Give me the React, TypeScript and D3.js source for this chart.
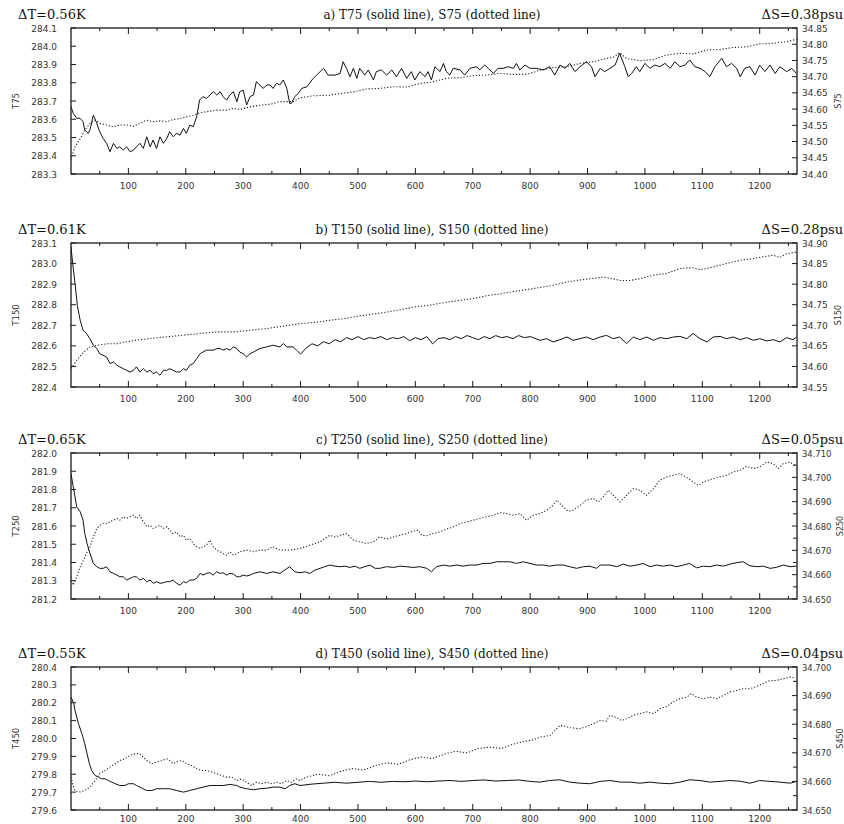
import React from 'react';
import * as d3 from 'd3';

type P = [number, number];

// ---------------- data (time, value) ----------------
const T75: P[] = [[0,283.669],[4,283.632],[10,283.605],[16,283.605],[21,283.587],[24,283.541],[30,283.523],[33,283.541],[39,283.623],[45,283.577],[50,283.532],[56,283.495],[62,283.468],[68,283.422],[74,283.468],[80,283.440],[85,283.449],[91,283.431],[97,283.449],[103,283.422],[109,283.431],[114,283.449],[120,283.468],[126,283.440],[132,283.504],[138,283.449],[143,283.486],[149,283.440],[155,283.504],[161,283.468],[167,283.495],[172,283.532],[178,283.504],[184,283.523],[190,283.513],[196,283.550],[201,283.523],[207,283.568],[213,283.559],[219,283.614],[224,283.705],[230,283.724],[236,283.714],[242,283.733],[248,283.751],[254,283.733],[260,283.751],[265,283.724],[271,283.705],[277,283.733],[283,283.751],[289,283.696],[294,283.751],[300,283.760],[306,283.678],[312,283.724],[318,283.733],[323,283.806],[329,283.788],[335,283.769],[341,283.788],[347,283.788],[352,283.769],[358,283.797],[364,283.788],[370,283.815],[376,283.769],[381,283.687],[384,283.687],[390,283.724],[396,283.742],[402,283.769],[411,283.778],[422,283.824],[428,283.842],[440,283.879],[448,283.842],[460,283.842],[469,283.851],[474,283.915],[480,283.879],[486,283.833],[492,283.879],[498,283.824],[503,283.879],[512,283.842],[518,283.870],[527,283.815],[532,283.861],[541,283.870],[550,283.842],[559,283.870],[567,283.833],[576,283.879],[585,283.824],[593,283.861],[599,283.815],[608,283.861],[617,283.833],[622,283.861],[628,283.815],[634,283.888],[643,283.861],[649,283.906],[654,283.861],[660,283.842],[666,283.879],[678,283.870],[686,283.842],[695,283.879],[707,283.888],[712,283.870],[721,283.897],[727,283.879],[736,283.851],[744,283.879],[753,283.879],[762,283.888],[771,283.879],[776,283.906],[782,283.870],[791,283.897],[800,283.879],[811,283.879],[823,283.870],[834,283.888],[843,283.842],[852,283.897],[861,283.879],[869,283.906],[878,283.861],[887,283.888],[898,283.915],[907,283.888],[913,283.833],[922,283.879],[930,283.861],[939,283.879],[948,283.897],[956,283.961],[965,283.888],[971,283.833],[977,283.851],[985,283.888],[991,283.861],[1000,283.906],[1009,283.879],[1017,283.897],[1026,283.888],[1035,283.906],[1044,283.879],[1052,283.915],[1061,283.888],[1070,283.897],[1078,283.925],[1087,283.888],[1096,283.879],[1105,283.861],[1113,283.833],[1122,283.888],[1134,283.934],[1142,283.888],[1151,283.906],[1160,283.879],[1166,283.833],[1174,283.879],[1183,283.888],[1192,283.842],[1200,283.897],[1209,283.861],[1218,283.897],[1227,283.851],[1235,283.888],[1247,283.861],[1256,283.879],[1264,283.851]];

const S75: P[] = [[0,34.445],[1,34.453],[7,34.484],[16,34.509],[24,34.535],[33,34.556],[42,34.566],[50,34.556],[62,34.551],[74,34.545],[85,34.551],[97,34.551],[109,34.547],[120,34.556],[132,34.566],[143,34.561],[155,34.564],[167,34.561],[178,34.568],[190,34.571],[201,34.576],[213,34.581],[225,34.589],[236,34.592],[254,34.597],[271,34.597],[283,34.602],[294,34.599],[312,34.607],[329,34.612],[347,34.615],[364,34.623],[387,34.623],[399,34.635],[422,34.641],[451,34.643],[469,34.648],[492,34.653],[515,34.662],[538,34.664],[562,34.669],[585,34.668],[608,34.679],[631,34.684],[654,34.695],[678,34.697],[701,34.703],[724,34.705],[747,34.710],[771,34.707],[794,34.707],[817,34.720],[840,34.728],[864,34.731],[887,34.741],[910,34.746],[933,34.756],[945,34.760],[956,34.774],[968,34.756],[991,34.749],[1015,34.753],[1038,34.767],[1061,34.772],[1084,34.770],[1107,34.782],[1131,34.784],[1154,34.790],[1177,34.792],[1200,34.801],[1224,34.803],[1247,34.808],[1264,34.815]];

const T150: P[] = [[0,283.081],[3,283.000],[7,282.903],[11,282.797],[16,282.724],[21,282.676],[27,282.660],[33,282.635],[39,282.603],[45,282.587],[50,282.562],[56,282.554],[62,282.546],[68,282.514],[74,282.522],[80,282.506],[85,282.498],[91,282.489],[97,282.481],[103,282.473],[109,282.481],[114,282.498],[120,282.473],[126,282.489],[132,282.473],[138,282.481],[143,282.465],[149,282.473],[155,282.457],[161,282.481],[167,282.481],[172,282.489],[178,282.481],[184,282.473],[190,282.473],[196,282.489],[201,282.481],[207,282.506],[213,282.514],[219,282.538],[225,282.562],[230,282.570],[236,282.579],[242,282.579],[248,282.579],[254,282.587],[260,282.587],[265,282.579],[271,282.587],[277,282.579],[283,282.595],[289,282.587],[294,282.570],[300,282.562],[306,282.546],[312,282.562],[318,282.570],[329,282.587],[341,282.595],[352,282.603],[364,282.595],[370,282.611],[376,282.595],[387,282.595],[393,282.579],[400,282.560],[410,282.590],[420,282.610],[430,282.600],[440,282.620],[450,282.610],[460,282.630],[470,282.620],[480,282.640],[490,282.630],[500,282.645],[510,282.630],[520,282.640],[530,282.635],[540,282.645],[550,282.630],[560,282.640],[570,282.635],[580,282.645],[590,282.625],[600,282.640],[610,282.630],[620,282.645],[630,282.610],[640,282.635],[650,282.640],[660,282.630],[670,282.645],[680,282.635],[690,282.650],[700,282.640],[710,282.630],[720,282.645],[730,282.635],[740,282.650],[750,282.640],[760,282.645],[770,282.635],[780,282.650],[790,282.640],[800,282.645],[810,282.635],[817,282.627],[829,282.635],[840,282.619],[852,282.630],[864,282.643],[875,282.627],[887,282.635],[898,282.643],[910,282.630],[922,282.643],[933,282.651],[945,282.635],[956,282.643],[968,282.611],[980,282.643],[991,282.630],[1003,282.643],[1015,282.627],[1026,282.640],[1038,282.635],[1050,282.643],[1061,282.646],[1073,282.635],[1084,282.660],[1096,282.635],[1108,282.619],[1119,282.643],[1131,282.646],[1142,282.635],[1154,282.643],[1166,282.630],[1177,282.640],[1189,282.627],[1200,282.635],[1212,282.624],[1224,282.630],[1235,282.619],[1247,282.640],[1258,282.630],[1264,282.643]];

const S150: P[] = [[0,34.595],[10,34.615],[22,34.635],[33,34.647],[45,34.651],[62,34.655],[80,34.655],[97,34.660],[114,34.664],[138,34.668],[167,34.672],[196,34.676],[225,34.680],[254,34.684],[283,34.684],[312,34.688],[341,34.692],[370,34.698],[399,34.704],[425,34.707],[450,34.712],[475,34.716],[500,34.722],[525,34.727],[550,34.732],[575,34.738],[600,34.745],[625,34.749],[650,34.755],[675,34.760],[700,34.765],[725,34.772],[750,34.777],[775,34.783],[800,34.788],[817,34.792],[840,34.797],[864,34.805],[881,34.809],[904,34.813],[927,34.817],[945,34.813],[957,34.809],[974,34.809],[991,34.813],[1015,34.822],[1038,34.826],[1061,34.838],[1084,34.840],[1096,34.835],[1108,34.838],[1131,34.846],[1142,34.850],[1166,34.858],[1189,34.862],[1212,34.868],[1224,34.870],[1235,34.865],[1247,34.874],[1264,34.878]];

const T250: P[] = [[0,281.887],[4,281.814],[10,281.705],[16,281.678],[21,281.632],[24,281.559],[28,281.504],[33,281.450],[39,281.395],[45,281.377],[50,281.368],[56,281.368],[62,281.377],[68,281.349],[74,281.340],[80,281.331],[85,281.322],[91,281.322],[97,281.304],[103,281.313],[109,281.322],[114,281.322],[120,281.304],[126,281.313],[132,281.295],[138,281.304],[143,281.286],[149,281.295],[155,281.286],[161,281.289],[167,281.295],[172,281.295],[178,281.304],[184,281.286],[190,281.276],[196,281.295],[201,281.289],[207,281.304],[213,281.304],[219,281.313],[225,281.340],[230,281.331],[236,281.340],[242,281.344],[248,281.331],[254,281.349],[260,281.340],[265,281.344],[271,281.331],[277,281.340],[283,281.337],[289,281.322],[294,281.322],[300,281.331],[306,281.326],[312,281.331],[318,281.340],[329,281.349],[341,281.340],[352,281.349],[364,281.340],[373,281.360],[381,281.377],[390,281.349],[399,281.344],[408,281.349],[416,281.340],[425,281.358],[434,281.368],[442,281.377],[451,281.386],[460,281.380],[469,281.377],[477,281.380],[486,281.373],[495,281.380],[503,281.368],[512,281.377],[521,281.386],[530,281.368],[538,281.368],[550,281.377],[562,281.373],[573,281.380],[585,281.377],[596,281.373],[608,281.377],[620,281.368],[628,281.349],[637,281.377],[649,281.386],[660,281.380],[672,281.386],[683,281.380],[695,281.386],[707,281.386],[718,281.395],[730,281.395],[742,281.404],[753,281.404],[765,281.404],[776,281.395],[788,281.404],[800,281.395],[811,281.386],[823,281.386],[834,281.380],[846,281.386],[858,281.386],[869,281.377],[881,281.368],[893,281.377],[904,281.380],[916,281.368],[922,281.386],[930,281.386],[939,281.386],[951,281.377],[962,281.391],[974,281.380],[986,281.386],[997,281.395],[1009,281.377],[1020,281.386],[1032,281.380],[1044,281.386],[1055,281.377],[1067,281.386],[1078,281.395],[1090,281.371],[1102,281.380],[1113,281.377],[1125,281.386],[1137,281.380],[1148,281.391],[1160,281.399],[1171,281.404],[1183,281.382],[1195,281.377],[1206,281.380],[1218,281.368],[1229,281.373],[1241,281.386],[1253,281.377],[1264,281.380]];

const S250: P[] = [[0,34.6591],[4,34.6557],[10,34.6591],[16,34.6633],[22,34.6660],[27,34.6687],[33,34.6715],[39,34.6756],[45,34.6790],[50,34.6803],[56,34.6810],[62,34.6810],[68,34.6817],[74,34.6824],[80,34.6831],[85,34.6824],[91,34.6838],[97,34.6831],[103,34.6838],[109,34.6844],[114,34.6831],[120,34.6844],[126,34.6817],[132,34.6797],[138,34.6803],[143,34.6790],[149,34.6797],[155,34.6803],[161,34.6790],[167,34.6797],[172,34.6783],[178,34.6769],[184,34.6776],[190,34.6756],[196,34.6762],[201,34.6742],[207,34.6749],[213,34.6728],[219,34.6715],[225,34.6708],[230,34.6715],[236,34.6721],[242,34.6742],[248,34.6715],[254,34.6701],[260,34.6694],[265,34.6687],[271,34.6680],[277,34.6694],[283,34.6680],[289,34.6687],[294,34.6694],[306,34.6701],[318,34.6694],[329,34.6701],[341,34.6701],[352,34.6715],[364,34.6701],[381,34.6701],[399,34.6708],[416,34.6721],[434,34.6735],[451,34.6762],[460,34.6755],[469,34.6762],[480,34.6769],[492,34.6742],[503,34.6735],[515,34.6728],[527,34.6735],[538,34.6755],[550,34.6746],[562,34.6755],[573,34.6762],[585,34.6769],[596,34.6779],[605,34.6783],[611,34.6762],[620,34.6760],[631,34.6769],[643,34.6776],[654,34.6787],[666,34.6796],[678,34.6810],[689,34.6817],[701,34.6824],[712,34.6831],[724,34.6838],[736,34.6844],[747,34.6855],[759,34.6851],[771,34.6844],[782,34.6851],[794,34.6824],[805,34.6844],[817,34.6851],[829,34.6865],[840,34.6885],[846,34.6906],[858,34.6878],[866,34.6861],[875,34.6865],[887,34.6885],[898,34.6906],[910,34.6913],[919,34.6899],[927,34.6919],[936,34.6947],[945,34.6926],[957,34.6899],[968,34.6926],[980,34.6954],[991,34.6947],[1003,34.6926],[1015,34.6954],[1026,34.6988],[1038,34.7002],[1049,34.7008],[1061,34.7015],[1073,34.6999],[1084,34.6981],[1093,34.6967],[1102,34.6981],[1119,34.6995],[1131,34.7002],[1142,34.7008],[1154,34.7022],[1166,34.7029],[1177,34.7045],[1189,34.7036],[1200,34.7043],[1212,34.7063],[1224,34.7056],[1232,34.7036],[1241,34.7056],[1253,34.7063],[1261,34.7049]];

const T450: P[] = [[0,280.232],[5,280.195],[7,280.157],[13,280.083],[19,280.027],[24,279.971],[28,279.915],[32,279.859],[36,279.821],[42,279.793],[48,279.784],[53,279.775],[59,279.775],[65,279.765],[71,279.756],[77,279.747],[85,279.737],[94,279.737],[100,279.747],[109,279.747],[114,279.737],[120,279.728],[132,279.709],[141,279.709],[149,279.719],[161,279.719],[172,279.719],[184,279.709],[196,279.700],[207,279.709],[219,279.719],[230,279.728],[242,279.737],[254,279.737],[265,279.737],[277,279.743],[289,279.737],[294,279.728],[306,279.719],[318,279.713],[329,279.719],[341,279.722],[352,279.728],[364,279.728],[373,279.719],[381,279.737],[390,279.747],[399,279.737],[420,279.745],[440,279.750],[460,279.755],[480,279.750],[500,279.755],[520,279.760],[540,279.755],[560,279.760],[580,279.758],[600,279.762],[620,279.758],[640,279.762],[660,279.765],[680,279.760],[700,279.765],[720,279.768],[740,279.762],[760,279.765],[780,279.768],[800,279.760],[817,279.756],[834,279.765],[852,279.769],[869,279.756],[887,279.750],[904,279.747],[922,279.760],[939,279.765],[957,279.756],[974,279.756],[991,279.750],[1009,279.756],[1026,279.750],[1044,279.747],[1061,279.756],[1078,279.769],[1096,279.765],[1113,279.756],[1131,279.760],[1148,279.765],[1166,279.761],[1183,279.750],[1200,279.765],[1218,279.760],[1235,279.756],[1253,279.750],[1264,279.760]];

const S450: P[] = [[0,34.6615],[5,34.6574],[7,34.6568],[16,34.6563],[24,34.6568],[33,34.6580],[42,34.6603],[50,34.6627],[59,34.6638],[68,34.6650],[77,34.6662],[85,34.6673],[94,34.6679],[103,34.6691],[112,34.6697],[120,34.6697],[126,34.6685],[132,34.6673],[141,34.6662],[149,34.6668],[158,34.6673],[167,34.6679],[172,34.6673],[178,34.6662],[184,34.6668],[193,34.6673],[201,34.6662],[210,34.6656],[219,34.6644],[228,34.6638],[236,34.6638],[245,34.6633],[254,34.6627],[262,34.6621],[271,34.6615],[280,34.6615],[289,34.6603],[297,34.6609],[306,34.6597],[315,34.6586],[323,34.6597],[332,34.6592],[341,34.6597],[350,34.6592],[358,34.6597],[367,34.6592],[376,34.6603],[384,34.6597],[393,34.6609],[399,34.6603],[410,34.6615],[430,34.6625],[450,34.6620],[470,34.6635],[490,34.6645],[510,34.6640],[530,34.6655],[550,34.6665],[570,34.6660],[590,34.6675],[610,34.6685],[630,34.6680],[650,34.6695],[670,34.6705],[690,34.6700],[710,34.6715],[730,34.6720],[750,34.6715],[770,34.6730],[790,34.6740],[805,34.6745],[817,34.6755],[835,34.6761],[852,34.6796],[869,34.6788],[887,34.6784],[904,34.6796],[922,34.6813],[933,34.6811],[939,34.6831],[951,34.6823],[959,34.6813],[968,34.6819],[980,34.6831],[991,34.6837],[1003,34.6843],[1015,34.6837],[1026,34.6854],[1038,34.6862],[1049,34.6878],[1061,34.6889],[1073,34.6895],[1081,34.6907],[1090,34.6895],[1102,34.6889],[1113,34.6895],[1125,34.6889],[1137,34.6901],[1148,34.6913],[1160,34.6918],[1171,34.6924],[1183,34.6924],[1195,34.6932],[1206,34.6942],[1218,34.6953],[1229,34.6953],[1241,34.6959],[1253,34.6965],[1261,34.6962]];

// axis ranges and labels
const X_DOMAIN = [0, 1265];
const X_MAJOR = [100, 200, 300, 400, 500, 600, 700, 800, 900, 1000, 1100, 1200];
const X_MINOR = [50, 150, 250, 350, 450, 550, 650, 750, 850, 950, 1050, 1150, 1250];
const T_DOMAINS = [[283.3, 284.1], [282.4, 283.1], [281.2, 282.0], [279.6, 280.4]];
const S_DOMAINS = [[34.40, 34.85], [34.55, 34.90], [34.650, 34.710], [34.650, 34.700]];
const S_STEPS = [0.05, 0.05, 0.01, 0.01];
const S_MINOR = [0, 0, 0.005, 0.005];
const S_DECIMALS = [2, 2, 3, 3];
const TITLES = ['a) T75 (solid line), S75 (dotted line)', 'b) T150 (solid line), S150 (dotted line)', 'c) T250 (solid line), S250 (dotted line)', 'd) T450 (solid line), S450 (dotted line)'];
const DELTA_T = ['0.56', '0.61', '0.65', '0.55'];
const DELTA_S = ['0.38', '0.28', '0.05', '0.04'];
const T_NAMES = ['T75', 'T150', 'T250', 'T450'];
const S_NAMES = ['S75', 'S150', 'S250', 'S450'];
const SERIES_T = [T75, T150, T250, T450];
const SERIES_S = [S75, S150, S250, S450];

// layout
const LEFT = 71;
const RIGHT = 797;
const BOXES = [[28, 174], [243, 387], [453, 599], [667, 810]];
const X_LABEL_GAP = [15, 15, 15, 12];

function steps(lo: number, hi: number, step: number): number[] {
  const n = Math.round((hi - lo) / step);
  const out: number[] = [];
  for (let i = 0; i <= n; i++) out.push(Math.round((lo + i * step) * 100000) / 100000);
  return out;
}

const SANS = "'DejaVu Sans', sans-serif";
const SERIF = "'DejaVu Serif', serif";

function Panel({ i }: { i: number }) {
  const [top, bottom] = BOXES[i];
  const x = d3.scaleLinear().domain(X_DOMAIN).range([LEFT, RIGHT]);
  const yT = d3.scaleLinear().domain(T_DOMAINS[i]).range([bottom, top]);
  const yS = d3.scaleLinear().domain(S_DOMAINS[i]).range([bottom, top]);
  const lineT = d3.line<P>().x(d => x(d[0])).y(d => yT(d[1]));
  const lineS = d3.line<P>().x(d => x(d[0])).y(d => yS(d[1]));
  const tTicks = steps(T_DOMAINS[i][0], T_DOMAINS[i][1], 0.1);
  const sTicks = steps(S_DOMAINS[i][0], S_DOMAINS[i][1], S_STEPS[i]);
  const sMinor = S_MINOR[i] ? steps(S_DOMAINS[i][0], S_DOMAINS[i][1], S_MINOR[i]).filter(v => !sTicks.some(s => Math.abs(s - v) < 1e-7)) : [];
  const clip = `clip${i}`;
  const mid = (top + bottom) / 2;
  const ink = '#1a1a1a';
  const rFont = S_DECIMALS[i] === 3 ? 8.4 : 9;
  return (
    <g>
      <defs>
        <clipPath id={clip}><rect x={LEFT} y={top} width={RIGHT - LEFT} height={bottom - top} /></clipPath>
      </defs>
      {/* headers */}
      <text x={18} y={top - 9} fontFamily={SERIF} fontSize={13} fill="#111">{'\u0394T=' + DELTA_T[i] + 'K'}</text>
      <text x={432} y={top - 9} fontFamily={SERIF} fontSize={12} fill="#111" textAnchor="middle">{TITLES[i]}</text>
      <text x={843} y={top - 9} fontFamily={SERIF} fontSize={13} fill="#111" textAnchor="end">{'\u0394S=' + DELTA_S[i] + 'psu'}</text>
      {/* data */}
      <g clipPath={`url(#${clip})`}>
        <path d={lineS(SERIES_S[i]) || ''} fill="none" stroke="#222" strokeWidth={1.1} strokeDasharray="1.2 1.9" />
        <path d={lineT(SERIES_T[i]) || ''} fill="none" stroke="#111" strokeWidth={1} strokeLinejoin="round" />
      </g>
      {/* box */}
      <rect x={LEFT} y={top} width={RIGHT - LEFT} height={bottom - top} fill="none" stroke={ink} strokeWidth={1.3} />
      {/* x ticks */}
      {X_MAJOR.map(v => (
        <g key={'xM' + v}>
          <line x1={x(v)} x2={x(v)} y1={bottom} y2={bottom - 6} stroke={ink} strokeWidth={1} />
          <line x1={x(v)} x2={x(v)} y1={top} y2={top + 6} stroke={ink} strokeWidth={1} />
          <text x={x(v)} y={bottom + X_LABEL_GAP[i]} fontFamily={SANS} fontSize={9} fill="#333" textAnchor="middle">{v}</text>
        </g>
      ))}
      {X_MINOR.map(v => (
        <g key={'xm' + v}>
          <line x1={x(v)} x2={x(v)} y1={bottom} y2={bottom - 3} stroke={ink} strokeWidth={1} />
          <line x1={x(v)} x2={x(v)} y1={top} y2={top + 3} stroke={ink} strokeWidth={1} />
        </g>
      ))}
      {/* left axis */}
      {tTicks.map(v => (
        <g key={'t' + v}>
          <line x1={LEFT} x2={LEFT + 5} y1={yT(v)} y2={yT(v)} stroke={ink} strokeWidth={1} />
          <text x={57} y={yT(v) + 3.5} fontFamily={SANS} fontSize={9} fill="#333" textAnchor="end">{v.toFixed(1)}</text>
        </g>
      ))}
      <text transform={`translate(19,${mid}) rotate(-90)`} fontFamily={SANS} fontSize={8.5} fill="#333" textAnchor="middle">{T_NAMES[i]}</text>
      {/* right axis */}
      {sTicks.map(v => (
        <g key={'s' + v}>
          <line x1={RIGHT} x2={RIGHT - 5} y1={yS(v)} y2={yS(v)} stroke={ink} strokeWidth={1} />
          <text x={802} y={yS(v) + 3.5} fontFamily={SANS} fontSize={rFont} fill="#333">{v.toFixed(S_DECIMALS[i])}</text>
        </g>
      ))}
      {sMinor.map(v => (
        <line key={'sm' + v} x1={RIGHT} x2={RIGHT - 4} y1={yS(v)} y2={yS(v)} stroke={ink} strokeWidth={1} />
      ))}
      <text transform={`translate(${S_DECIMALS[i] === 3 ? 843 : 841},${mid}) rotate(-90)`} fontFamily={SANS} fontSize={8} fill="#333" textAnchor="middle">{S_NAMES[i]}</text>
    </g>
  );
}

export default function App() {
  return (
    <div style={{ position: 'absolute', left: 0, top: 0 }}>
      <svg width={844} height={824} viewBox="0 0 844 824" style={{ display: 'block', background: '#fff' }}>
        {[0, 1, 2, 3].map(i => <Panel key={i} i={i} />)}
      </svg>
    </div>
  );
}
